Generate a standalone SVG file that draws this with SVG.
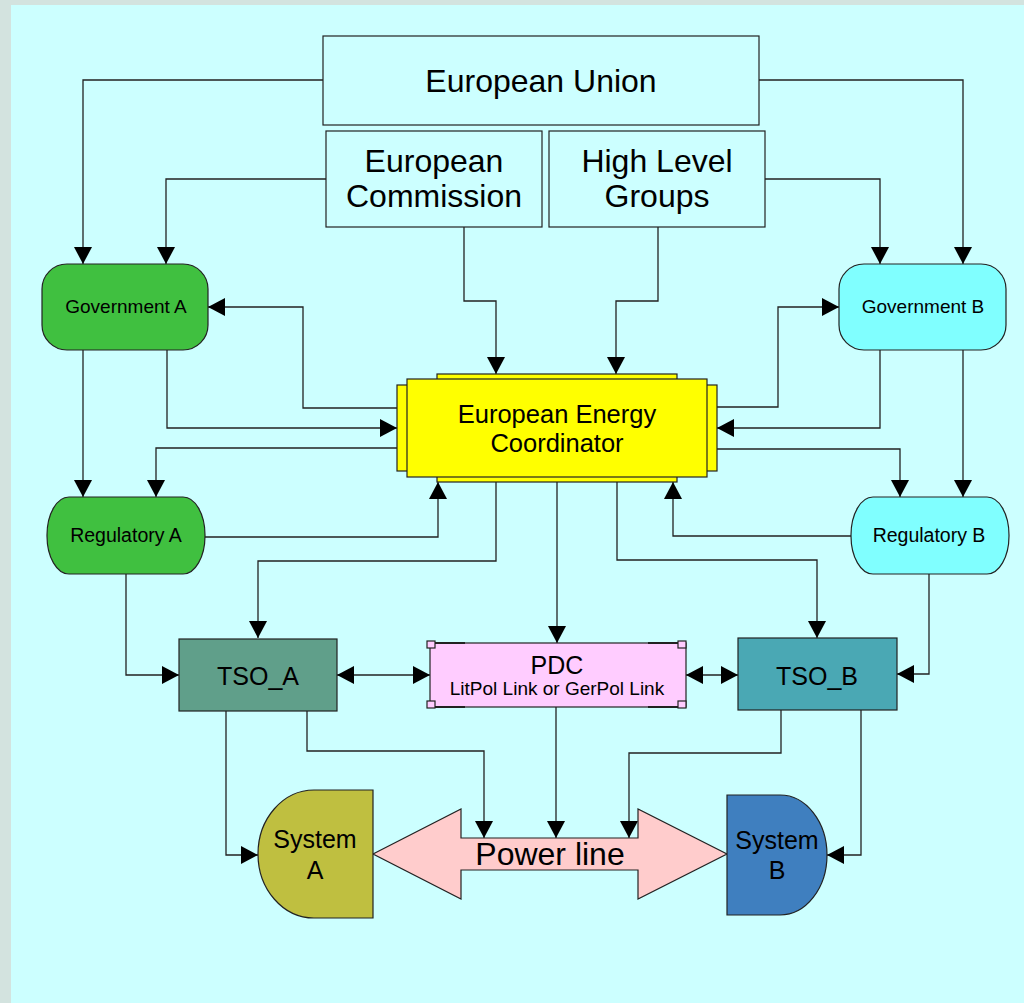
<svg xmlns="http://www.w3.org/2000/svg" width="1024" height="1003" viewBox="0 0 1024 1003">
<defs>
<style>
.n{stroke:#222;stroke-width:1.2}
.t{font-family:"Liberation Sans",Arial,sans-serif;fill:#000;text-anchor:middle}
.c path{fill:none;stroke:#222;stroke-width:1.3;marker-end:url(#ah)}
.c path.b{marker-start:url(#ah)}
</style>
<marker id="ah" markerUnits="userSpaceOnUse" markerWidth="18" markerHeight="18" viewBox="0 0 18 18" refX="17" refY="9" orient="auto-start-reverse">
<path d="M0,0 L17,9 L0,18 Z" fill="#000"/>
</marker>
</defs>
<rect x="0" y="0" width="1024" height="1003" fill="#D3E3DF"/>
<rect x="11" y="5" width="1013" height="998" fill="#CCFFFF"/>

<g class="c" id="connectors">
<path d="M323,80 H83 V264"/>
<path d="M326,179 H166 V264"/>
<path d="M765,179 H880 V264"/>
<path d="M759,80 H963 V264"/>
<path d="M464,227 V301 H496 V374"/>
<path d="M658,227 V301 H616 V374"/>
<path d="M397,408 H303 V307 H208"/>
<path d="M167,350 V428 H397"/>
<path d="M397,448 H156 V497"/>
<path d="M83,350 V497"/>
<path d="M205,537 H438 V482"/>
<path d="M717,407 H778 V307 H839"/>
<path d="M880,350 V428 H717"/>
<path d="M717,449 H900 V497"/>
<path d="M963,350 V497"/>
<path d="M851,536 H673 V482"/>
<path d="M496,482 V561 H258 V638"/>
<path d="M557,482 V643"/>
<path d="M617,482 V560 H817 V638"/>
<path d="M126,574 V675 H179"/>
<path class="b" d="M337,675 H430"/>
<path class="b" d="M686,675 H738"/>
<path d="M929,574 V674 H897"/>
<path d="M226,711 V855 H258"/>
<path d="M307,711 V751 H484 V838"/>
<path d="M556,707 V838"/>
<path d="M781,710 V753 H629 V838"/>
<path d="M861,710 V855 H827"/>
</g>

<g id="eu">
<rect class="n" x="323" y="36" width="436" height="89" fill="#CCFFFF"/>
<text class="t" x="541" y="92" font-size="32">European Union</text>
</g>
<g id="ec">
<rect class="n" x="326" y="131" width="216" height="96" fill="#CCFFFF"/>
<text class="t" x="434" y="172" font-size="32">European</text>
<text class="t" x="434" y="207" font-size="32">Commission</text>
</g>
<g id="hlg">
<rect class="n" x="549" y="131" width="216" height="96" fill="#CCFFFF"/>
<text class="t" x="657" y="172" font-size="32">High Level</text>
<text class="t" x="657" y="207" font-size="32">Groups</text>
</g>
<g id="govA">
<rect class="n" x="42" y="264" width="166" height="86" rx="25" ry="25" fill="#40C040"/>
<text class="t" x="126" y="313" font-size="19">Government A</text>
</g>
<g id="govB">
<rect class="n" x="839" y="264" width="167" height="86" rx="25" ry="25" fill="#80FFFF"/>
<text class="t" x="923" y="313" font-size="19">Government B</text>
</g>
<g id="eec">
<rect class="n" x="437" y="374" width="240" height="108" fill="#FFFF00"/>
<rect class="n" x="397" y="385" width="20" height="86" fill="#FFFF00"/>
<rect class="n" x="697" y="385" width="20" height="86" fill="#FFFF00"/>
<rect class="n" x="407" y="379" width="300" height="98" fill="#FFFF00"/>
<text class="t" x="557" y="423" font-size="25.5">European Energy</text>
<text class="t" x="557" y="452" font-size="25.5">Coordinator</text>
</g>
<g id="regA">
<rect class="n" x="47" y="497" width="158" height="77" rx="22" ry="38" fill="#40C040"/>
<text class="t" x="126" y="542" font-size="19.5">Regulatory A</text>
</g>
<g id="regB">
<rect class="n" x="851" y="497" width="158" height="77" rx="22" ry="38" fill="#80FFFF"/>
<text class="t" x="929" y="542" font-size="19.5">Regulatory B</text>
</g>
<g id="tsoA">
<rect class="n" x="179" y="639" width="158" height="72" fill="#609F8A"/>
<text class="t" x="258" y="685" font-size="25">TSO_A</text>
</g>
<g id="tsoB">
<rect class="n" x="738" y="638" width="159" height="72" fill="#4AA8B4"/>
<text class="t" x="817" y="685" font-size="25">TSO_B</text>
</g>
<g id="pdc">
<rect class="n" x="430" y="643" width="256" height="64" fill="#FFCCFF"/>
<path d="M427,643 H465 M648,643 H686 M427,707 H465 M648,707 H686" stroke="#222" stroke-width="2.2" fill="none"/>
<rect class="n" x="427" y="641" width="8" height="7" fill="#FFCCFF"/>
<rect class="n" x="678" y="641" width="8" height="7" fill="#FFCCFF"/>
<rect class="n" x="427" y="701" width="8" height="7" fill="#FFCCFF"/>
<rect class="n" x="678" y="701" width="8" height="7" fill="#FFCCFF"/>
<text class="t" x="557" y="674" font-size="25">PDC</text>
<text class="t" x="557" y="695" font-size="19">LitPol Link or GerPol Link</text>
</g>
<g id="powerline">
<polygon class="n" points="373,854 461,809 461,838 638,838 638,809 727,854 638,899 638,870 461,870 461,899" fill="#FFCCCC"/>
<text class="t" x="550" y="865" font-size="32">Power line</text>
</g>
<g id="sysA">
<path class="n" d="M373,790 H314 A56,64 0 0 0 258,854 A56,64 0 0 0 314,918 H373 Z" fill="#BFBF40"/>
<text class="t" x="315" y="848" font-size="25">System</text>
<text class="t" x="315" y="879" font-size="25">A</text>
</g>
<g id="sysB">
<path class="n" d="M727,795 H780 A47,60 0 0 1 827,855 A47,60 0 0 1 780,915 H727 Z" fill="#3F7FBF"/>
<text class="t" x="777" y="849" font-size="25">System</text>
<text class="t" x="777" y="879" font-size="25">B</text>
</g>
</svg>
